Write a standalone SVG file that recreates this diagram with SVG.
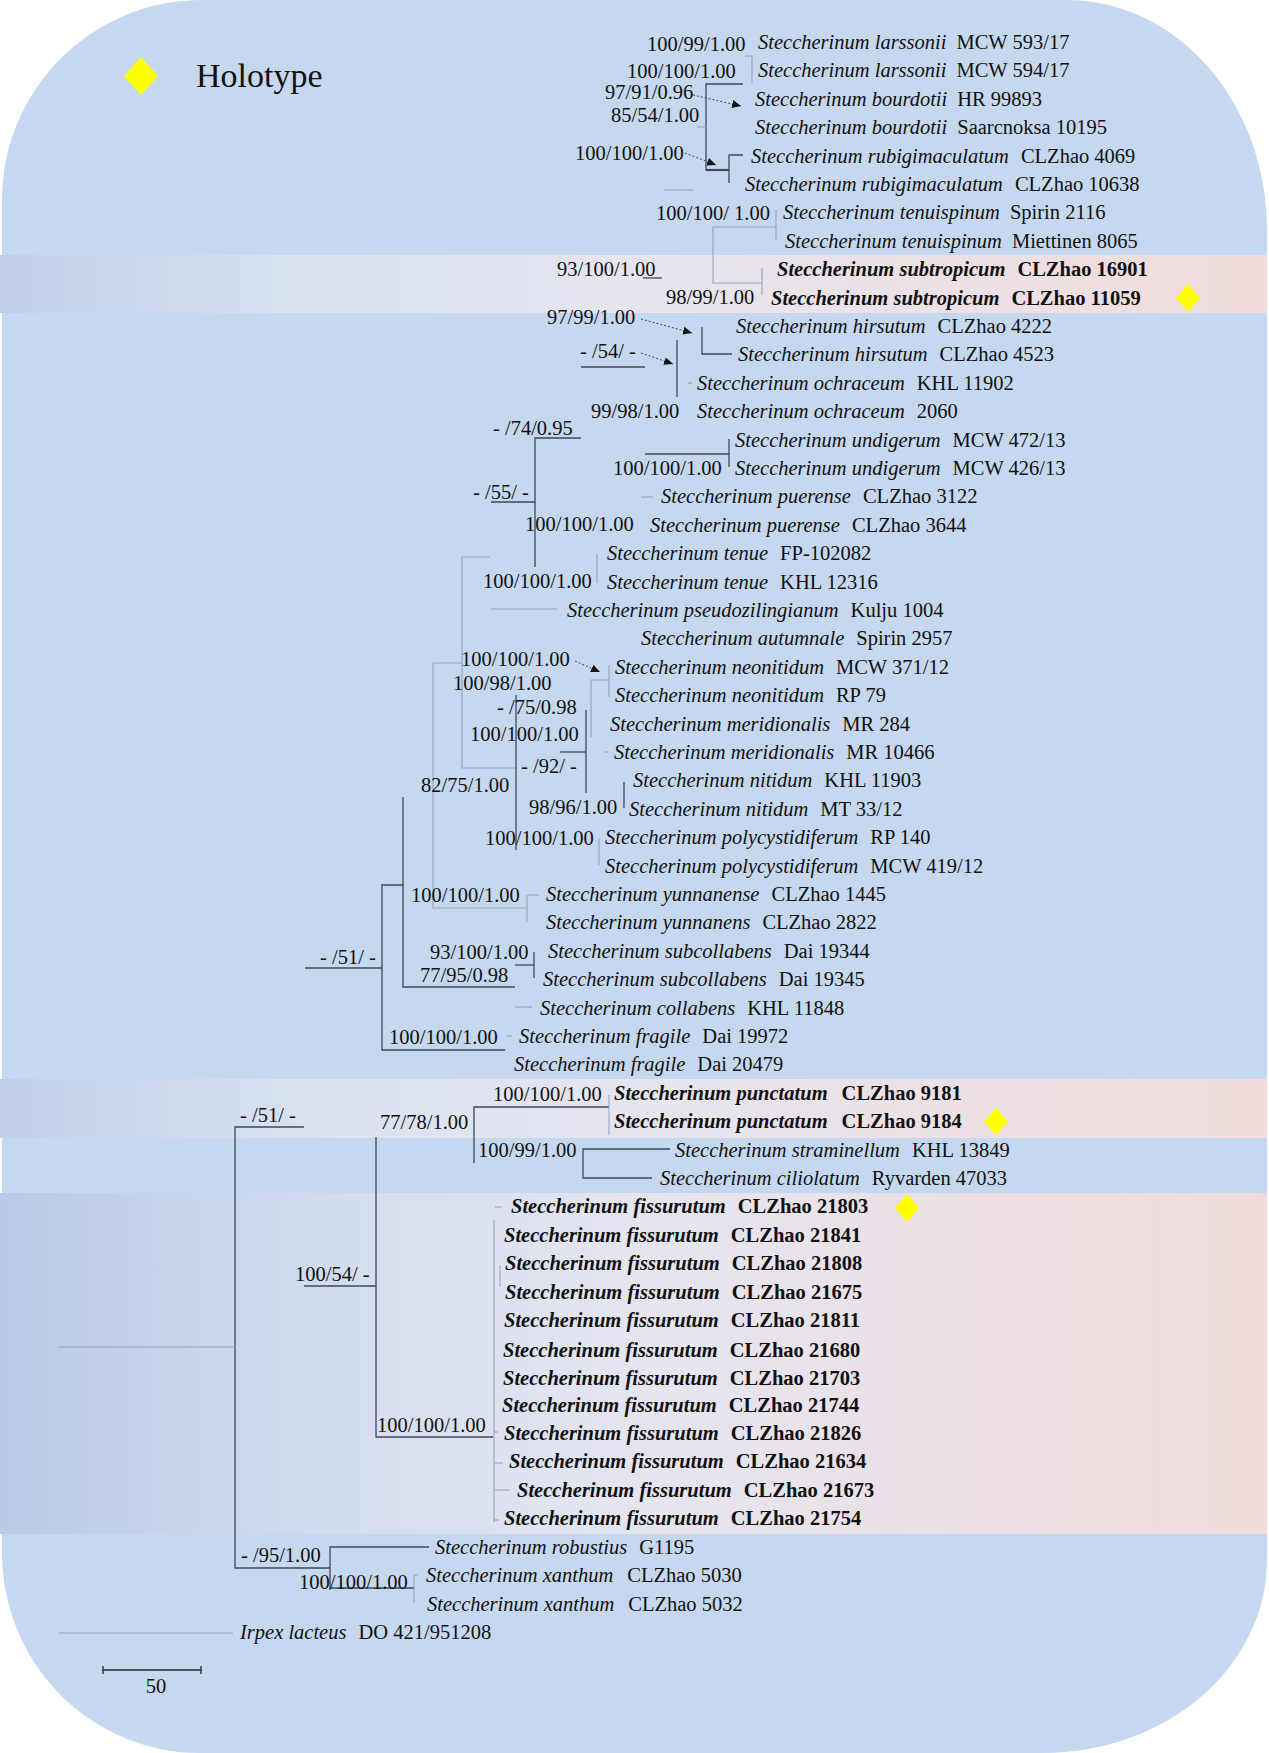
<svg xmlns="http://www.w3.org/2000/svg" width="1269" height="1753" viewBox="0 0 1269 1753">
<style>
.t{font-family:"Liberation Serif","Times New Roman",serif;font-size:20.5px;fill:#111}
.i{font-style:italic}
.bd{font-weight:bold}
.d{stroke:#3e4859;stroke-width:1.3;fill:none}
.l{stroke:#97a5ba;stroke-width:1.1;fill:none}
.a{stroke:#4a4a4a;stroke-width:1;stroke-dasharray:2 2;fill:none;marker-end:url(#ah)}
.hol{fill:#ffff00}
</style>
<defs>
<linearGradient id="gA" x1="0" y1="0" x2="1" y2="0">
<stop offset="0" stop-color="#c0cfea"/><stop offset="0.25" stop-color="#dae2f1"/><stop offset="0.5" stop-color="#e6e5ef"/><stop offset="1" stop-color="#f2dcdb"/>
</linearGradient>
<linearGradient id="gC" x1="0" y1="0" x2="1" y2="0">
<stop offset="0" stop-color="#b9cbe8"/><stop offset="0.3" stop-color="#d6def0"/><stop offset="0.5" stop-color="#e5e5f0"/><stop offset="1" stop-color="#f2dcdb"/>
</linearGradient>
<marker id="ah" markerUnits="userSpaceOnUse" markerWidth="10" markerHeight="8" refX="9" refY="4" orient="auto">
<path d="M0,0 L9,4 L0,8 Z" fill="#111"/>
</marker>
</defs>
<rect width="1269" height="1753" fill="#ffffff"/>
<path id="background" d="M202,0 H1067 A200,230 0 0 1 1267,230 V1560 A224,193 0 0 1 1043,1753 H200 A198,200 0 0 1 2,1553 V200 A200,200 0 0 1 202,0 Z" fill="#c6d8ef"/>
<g id="bands">
<rect x="0" y="255" width="1267" height="58" fill="url(#gA)"/>
<rect x="0" y="1079" width="1267" height="59" fill="url(#gA)"/>
<rect x="0" y="1193" width="1267" height="341" fill="url(#gC)"/>
</g>
<g id="legend">
<polygon class="hol" points="141,57 158,76 141,95 124,76"/>
<text class="t" x="196" y="87" style="font-size:34px">Holotype</text>
</g>
<g id="connectors">
<path class="l" d="M745,56 H752 V83"/>
<path class="d" d="M743,84 H706 V170 H729"/>
<path class="d" d="M706,170 H729" style="stroke-width:2.2"/>
<path class="d" d="M729,183 V155 H743"/>
<path class="l" d="M697,127 H706"/>
<path class="l" d="M664,190 H693"/>
<path class="l" d="M776,210 V240"/>
<path class="l" d="M776,227 H713 V283 H762"/>
<path class="l" d="M762,268 V295"/>
<path class="d" d="M643,278 H662"/>
<path class="d" d="M702,327 V354 H732"/>
<path class="d" d="M581,367 H645"/>
<path class="d" d="M677,340 V397"/>
<path class="l" d="M688,383 H692"/>
<path class="d" d="M581,438 H535 V567"/>
<path class="d" d="M645,454 H729"/>
<path class="d" d="M729,439 V467"/>
<path class="d" d="M491,502 H535"/>
<path class="l" d="M641,497 H653"/>
<path class="l" d="M597,554 V583"/>
<path class="l" d="M490,557 H462 V768 H516"/>
<path class="l" d="M491,609 H557"/>
<path class="l" d="M462,663 H433 V908 H527"/>
<path class="d" d="M516,695 V850"/>
<path class="l" d="M609,665 V697"/>
<path class="l" d="M609,680 H591 V737"/>
<path class="d" d="M586,710 V793"/>
<path class="d" d="M560,752 H586"/>
<path class="l" d="M604,752 H608"/>
<path class="d" d="M624,782 V808"/>
<path class="l" d="M599,838 V865"/>
<path class="d" d="M381,885 H403 V987 H515"/>
<path class="d" d="M403,797 V885"/>
<path class="l" d="M527,895 V922"/>
<path class="l" d="M528,895 H539"/>
<path class="d" d="M305,968 H382"/>
<path class="d" d="M382,886 V1050 H505"/>
<path class="d" d="M515,965 H534"/>
<path class="d" d="M534,952 V978"/>
<path class="l" d="M515,1007 H532"/>
<path class="l" d="M507,1036 H512"/>
<path class="d" d="M474,1163 V1107 H609"/>
<path class="l" d="M609,1095 V1135"/>
<path class="d" d="M670,1149 H583 V1178 H652"/>
<path class="d" d="M304,1127 H235 V1568 H330"/>
<path class="d" d="M376,1137 V1437 H493"/>
<path class="d" d="M304,1286 H376"/>
<path class="l" d="M59,1347 H235"/>
<path class="l" d="M494,1220 V1522"/>
<path class="l" d="M495,1207 H502"/>
<path class="l" d="M500,1265 V1287"/>
<path class="l" d="M494,1432 H498"/>
<path class="l" d="M495,1463 H503"/>
<path class="l" d="M495,1490 H510"/>
<path class="l" d="M494,1520 H499"/>
<path class="d" d="M429,1547 H330 V1590"/>
<path class="d" d="M330,1588 H414"/>
<path class="l" d="M414,1575 V1603"/>
<path class="l" d="M414,1575 H418"/>
<path class="l" d="M59,1633 H233"/>
<path class="a" d="M693,95 L741,106"/>
<path class="a" d="M685,153 L716,165"/>
<path class="a" d="M641,319 L692,333"/>
<path class="a" d="M641,353 L673,364"/>
<path class="a" d="M575,661 L600,672"/>
</g>
<g id="taxa">
<g id="n01"><text class="t" x="758" y="49"><tspan class="i">Steccherinum larssonii</tspan><tspan dx="10">MCW 593/17</tspan></text></g>
<g id="n02"><text class="t" x="758" y="77"><tspan class="i">Steccherinum larssonii</tspan><tspan dx="10">MCW 594/17</tspan></text></g>
<g id="n03"><text class="t" x="755" y="106"><tspan class="i">Steccherinum bourdotii</tspan><tspan dx="10">HR 99893</tspan></text></g>
<g id="n04"><text class="t" x="755" y="134"><tspan class="i">Steccherinum bourdotii</tspan><tspan dx="10">Saarcnoksa 10195</tspan></text></g>
<g id="n05"><text class="t" x="751" y="163"><tspan class="i">Steccherinum rubigimaculatum</tspan><tspan dx="12">CLZhao 4069</tspan></text></g>
<g id="n06"><text class="t" x="745" y="191"><tspan class="i">Steccherinum rubigimaculatum</tspan><tspan dx="12">CLZhao 10638</tspan></text></g>
<g id="n07"><text class="t" x="783" y="219"><tspan class="i">Steccherinum tenuispinum</tspan><tspan dx="10">Spirin 2116</tspan></text></g>
<g id="n08"><text class="t" x="785" y="248"><tspan class="i">Steccherinum tenuispinum</tspan><tspan dx="10">Miettinen 8065</tspan></text></g>
<g id="n09"><text class="t bd" x="777" y="276"><tspan class="i">Steccherinum subtropicum</tspan><tspan dx="12">CLZhao 16901</tspan></text></g>
<g id="n10"><text class="t bd" x="771" y="305"><tspan class="i">Steccherinum subtropicum</tspan><tspan dx="12">CLZhao 11059</tspan></text><polygon class="hol" points="1188,284 1200,298 1188,312 1176,298"/></g>
<g id="n11"><text class="t" x="736" y="333"><tspan class="i">Steccherinum hirsutum</tspan><tspan dx="12">CLZhao 4222</tspan></text></g>
<g id="n12"><text class="t" x="738" y="361"><tspan class="i">Steccherinum hirsutum</tspan><tspan dx="12">CLZhao 4523</tspan></text></g>
<g id="n13"><text class="t" x="697" y="390"><tspan class="i">Steccherinum ochraceum</tspan><tspan dx="12">KHL 11902</tspan></text></g>
<g id="n14"><text class="t" x="697" y="418"><tspan class="i">Steccherinum ochraceum</tspan><tspan dx="12">2060</tspan></text></g>
<g id="n15"><text class="t" x="735" y="447"><tspan class="i">Steccherinum undigerum</tspan><tspan dx="12">MCW 472/13</tspan></text></g>
<g id="n16"><text class="t" x="735" y="475"><tspan class="i">Steccherinum undigerum</tspan><tspan dx="12">MCW 426/13</tspan></text></g>
<g id="n17"><text class="t" x="661" y="503"><tspan class="i">Steccherinum puerense</tspan><tspan dx="12">CLZhao 3122</tspan></text></g>
<g id="n18"><text class="t" x="650" y="532"><tspan class="i">Steccherinum puerense</tspan><tspan dx="12">CLZhao 3644</tspan></text></g>
<g id="n19"><text class="t" x="607" y="560"><tspan class="i">Steccherinum tenue</tspan><tspan dx="12">FP-102082</tspan></text></g>
<g id="n20"><text class="t" x="607" y="589"><tspan class="i">Steccherinum tenue</tspan><tspan dx="12">KHL 12316</tspan></text></g>
<g id="n21"><text class="t" x="567" y="617"><tspan class="i">Steccherinum pseudozilingianum</tspan><tspan dx="12">Kulju 1004</tspan></text></g>
<g id="n22"><text class="t" x="641" y="645"><tspan class="i">Steccherinum autumnale</tspan><tspan dx="12">Spirin 2957</tspan></text></g>
<g id="n23"><text class="t" x="615" y="674"><tspan class="i">Steccherinum neonitidum</tspan><tspan dx="12">MCW 371/12</tspan></text></g>
<g id="n24"><text class="t" x="615" y="702"><tspan class="i">Steccherinum neonitidum</tspan><tspan dx="12">RP 79</tspan></text></g>
<g id="n25"><text class="t" x="610" y="731"><tspan class="i">Steccherinum meridionalis</tspan><tspan dx="12">MR 284</tspan></text></g>
<g id="n26"><text class="t" x="614" y="759"><tspan class="i">Steccherinum meridionalis</tspan><tspan dx="12">MR 10466</tspan></text></g>
<g id="n27"><text class="t" x="633" y="787"><tspan class="i">Steccherinum nitidum</tspan><tspan dx="12">KHL 11903</tspan></text></g>
<g id="n28"><text class="t" x="629" y="816"><tspan class="i">Steccherinum nitidum</tspan><tspan dx="12">MT 33/12</tspan></text></g>
<g id="n29"><text class="t" x="605" y="844"><tspan class="i">Steccherinum polycystidiferum</tspan><tspan dx="12">RP 140</tspan></text></g>
<g id="n30"><text class="t" x="605" y="873"><tspan class="i">Steccherinum polycystidiferum</tspan><tspan dx="12">MCW 419/12</tspan></text></g>
<g id="n31"><text class="t" x="546" y="901"><tspan class="i">Steccherinum yunnanense</tspan><tspan dx="12">CLZhao 1445</tspan></text></g>
<g id="n32"><text class="t" x="546" y="929"><tspan class="i">Steccherinum yunnanens</tspan><tspan dx="12">CLZhao 2822</tspan></text></g>
<g id="n33"><text class="t" x="548" y="958"><tspan class="i">Steccherinum subcollabens</tspan><tspan dx="12">Dai 19344</tspan></text></g>
<g id="n34"><text class="t" x="543" y="986"><tspan class="i">Steccherinum subcollabens</tspan><tspan dx="12">Dai 19345</tspan></text></g>
<g id="n35"><text class="t" x="540" y="1015"><tspan class="i">Steccherinum collabens</tspan><tspan dx="12">KHL 11848</tspan></text></g>
<g id="n36"><text class="t" x="519" y="1043"><tspan class="i">Steccherinum fragile</tspan><tspan dx="12">Dai 19972</tspan></text></g>
<g id="n37"><text class="t" x="514" y="1071"><tspan class="i">Steccherinum fragile</tspan><tspan dx="12">Dai 20479</tspan></text></g>
<g id="n38"><text class="t bd" x="614" y="1100"><tspan class="i">Steccherinum punctatum</tspan><tspan dx="14">CLZhao 9181</tspan></text></g>
<g id="n39"><text class="t bd" x="614" y="1128"><tspan class="i">Steccherinum punctatum</tspan><tspan dx="14">CLZhao 9184</tspan></text><polygon class="hol" points="996,1108 1008,1121.5 996,1135 984,1121.5"/></g>
<g id="n40"><text class="t" x="675" y="1157"><tspan class="i">Steccherinum straminellum</tspan><tspan dx="12">KHL 13849</tspan></text></g>
<g id="n41"><text class="t" x="660" y="1185"><tspan class="i">Steccherinum ciliolatum</tspan><tspan dx="12">Ryvarden 47033</tspan></text></g>
<g id="n42"><text class="t bd" x="511" y="1213"><tspan class="i">Steccherinum fissurutum</tspan><tspan dx="12">CLZhao 21803</tspan></text><polygon class="hol" points="907,1194 919,1208 907,1222 895,1208"/></g>
<g id="n43"><text class="t bd" x="504" y="1242"><tspan class="i">Steccherinum fissurutum</tspan><tspan dx="12">CLZhao 21841</tspan></text></g>
<g id="n44"><text class="t bd" x="505" y="1270"><tspan class="i">Steccherinum fissurutum</tspan><tspan dx="12">CLZhao 21808</tspan></text></g>
<g id="n45"><text class="t bd" x="505" y="1299"><tspan class="i">Steccherinum fissurutum</tspan><tspan dx="12">CLZhao 21675</tspan></text></g>
<g id="n46"><text class="t bd" x="504" y="1327"><tspan class="i">Steccherinum fissurutum</tspan><tspan dx="12">CLZhao 21811</tspan></text></g>
<g id="n47"><text class="t bd" x="503" y="1357"><tspan class="i">Steccherinum fissurutum</tspan><tspan dx="12">CLZhao 21680</tspan></text></g>
<g id="n48"><text class="t bd" x="503" y="1385"><tspan class="i">Steccherinum fissurutum</tspan><tspan dx="12">CLZhao 21703</tspan></text></g>
<g id="n49"><text class="t bd" x="502" y="1412"><tspan class="i">Steccherinum fissurutum</tspan><tspan dx="12">CLZhao 21744</tspan></text></g>
<g id="n50"><text class="t bd" x="504" y="1440"><tspan class="i">Steccherinum fissurutum</tspan><tspan dx="12">CLZhao 21826</tspan></text></g>
<g id="n51"><text class="t bd" x="509" y="1468"><tspan class="i">Steccherinum fissurutum</tspan><tspan dx="12">CLZhao 21634</tspan></text></g>
<g id="n52"><text class="t bd" x="517" y="1497"><tspan class="i">Steccherinum fissurutum</tspan><tspan dx="12">CLZhao 21673</tspan></text></g>
<g id="n53"><text class="t bd" x="504" y="1525"><tspan class="i">Steccherinum fissurutum</tspan><tspan dx="12">CLZhao 21754</tspan></text></g>
<g id="n54"><text class="t" x="435" y="1554"><tspan class="i">Steccherinum robustius</tspan><tspan dx="12">G1195</tspan></text></g>
<g id="n55"><text class="t" x="426" y="1582"><tspan class="i">Steccherinum xanthum</tspan><tspan dx="14">CLZhao 5030</tspan></text></g>
<g id="n56"><text class="t" x="427" y="1611"><tspan class="i">Steccherinum xanthum</tspan><tspan dx="14">CLZhao 5032</tspan></text></g>
<g id="n57"><text class="t" x="240" y="1639"><tspan class="i">Irpex lacteus</tspan><tspan dx="12">DO 421/951208</tspan></text></g>
</g>
<g id="support">
<text class="t" x="647" y="51">100/99/1.00</text>
<text class="t" x="627" y="78">100/100/1.00</text>
<text class="t" x="605" y="99">97/91/0.96</text>
<text class="t" x="611" y="122">85/54/1.00</text>
<text class="t" x="575" y="160">100/100/1.00</text>
<text class="t" x="656" y="220">100/100/ 1.00</text>
<text class="t" x="557" y="276">93/100/1.00</text>
<text class="t" x="666" y="304">98/99/1.00</text>
<text class="t" x="547" y="324">97/99/1.00</text>
<text class="t" x="580" y="358">- /54/ -</text>
<text class="t" x="591" y="418">99/98/1.00</text>
<text class="t" x="493" y="435">- /74/0.95</text>
<text class="t" x="613" y="475">100/100/1.00</text>
<text class="t" x="473" y="499">- /55/ -</text>
<text class="t" x="525" y="531">100/100/1.00</text>
<text class="t" x="483" y="588">100/100/1.00</text>
<text class="t" x="461" y="666">100/100/1.00</text>
<text class="t" x="453" y="690">100/98/1.00</text>
<text class="t" x="497" y="714">- /75/0.98</text>
<text class="t" x="470" y="741">100/100/1.00</text>
<text class="t" x="521" y="773">- /92/ -</text>
<text class="t" x="421" y="792">82/75/1.00</text>
<text class="t" x="529" y="814">98/96/1.00</text>
<text class="t" x="485" y="845">100/100/1.00</text>
<text class="t" x="411" y="902">100/100/1.00</text>
<text class="t" x="430" y="959">93/100/1.00</text>
<text class="t" x="420" y="982">77/95/0.98</text>
<text class="t" x="320" y="964">- /51/ -</text>
<text class="t" x="389" y="1044">100/100/1.00</text>
<text class="t" x="493" y="1101">100/100/1.00</text>
<text class="t" x="240" y="1122">- /51/ -</text>
<text class="t" x="380" y="1129">77/78/1.00</text>
<text class="t" x="478" y="1157">100/99/1.00</text>
<text class="t" x="295" y="1281">100/54/ -</text>
<text class="t" x="377" y="1432">100/100/1.00</text>
<text class="t" x="241" y="1562">- /95/1.00</text>
<text class="t" x="299" y="1589">100/100/1.00</text>
</g>
<g id="scale">
<path class="d" d="M103,1670 H201 M103,1666 V1674 M201,1666 V1674" style="stroke:#222"/>
<text class="t" x="156" y="1693" text-anchor="middle">50</text>
</g>
</svg>
